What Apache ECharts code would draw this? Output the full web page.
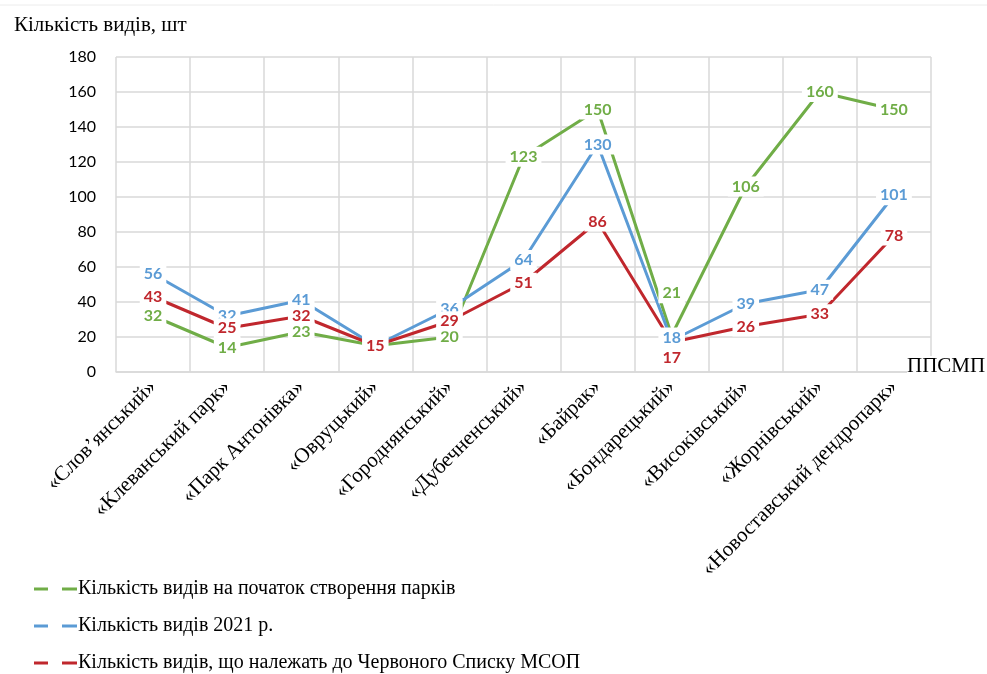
<!DOCTYPE html>
<html>
<head>
<meta charset="UTF-8">
<title>Кількість видів</title>
<script src="https://cdn.jsdelivr.net/npm/echarts@6/dist/echarts.min.js"></script>
<style>
  body { margin: 0; background: #fff; }
  #chart { width: 987px; height: 674px; }
</style>
</head>
<body>
<div id="chart"></div>
<script>
// parks
var parks = ['«Слов’янський»', '«Клеванський парк»', '«Парк Антонівка»', '«Овруцький»',
  '«Городнянський»', '«Дубечненський»', '«Байрак»', '«Бондарецький»',
  '«Високівський»', '«Жорнівський»', '«Новоставський дендропарк»'];

var atStart = [32, 14, 23, 15, 20, 123, 150, 21, 106, 160, 150];
var in2021 = [56, 32, 41, 15, 36, 64, 130, 18, 39, 47, 101];
var redList = [43, 25, 32, 15, 29, 51, 86, 17, 26, 33, 78];

var seriesNames = ['Кількість видів на початок створення парків',
  'Кількість видів 2021 р.',
  'Кількість видів, що належать до Червоного Списку МСОП'];

var yTicks = [0, 20, 40, 60, 80, 100, 120, 140, 160, 180];

var colors = ['#70AD47', '#5B9BD5', '#C0272D'];

// label tweaks (index -> label option), like in the original picture
function build(values, tweaks) {
  return values.map(function (v, i) {
    var item = { value: v };
    if (tweaks[i]) item.label = tweaks[i];
    return item;
  });
}

function lineSeries(name, data, color) {
  return {
    name: name,
    type: 'line',
    data: data,
    symbol: 'circle',
    symbolSize: 1,
    showSymbol: true,
    itemStyle: { color: color },
    lineStyle: { color: color, width: 3 },
    label: {
      show: true,
      position: 'inside',
      color: color,
      fontFamily: 'Lato',
      fontWeight: 'bold',
      fontSize: 16,
      backgroundColor: '#fff',
      padding: [2, 4]
    },
    emphasis: { disabled: true },
    animation: false
  };
}

var chart = echarts.init(document.getElementById('chart'));

var option = {
  animation: false,
  color: colors,
  title: {
    text: 'Кількість видів, шт',
    left: 9,
    top: 10,
    textStyle: { fontFamily: 'Liberation Serif', fontWeight: 'normal', fontSize: 21, color: '#000' }
  },
  grid: { left: 116, right: 56, top: 57, bottom: 302 },
  legend: {
    orient: 'vertical',
    left: 29,
    top: 574,
    height: 100,
    itemGap: 17,
    itemWidth: 43,
    itemHeight: 3,
    icon: 'path://M0,0H14V3H0Z M28,0H43V3H28Z',
    textStyle: { fontFamily: 'Liberation Serif', fontSize: 20, color: '#000', padding: [0, 0, 0, -4] },
    data: seriesNames
  },
  xAxis: {
    type: 'category',
    data: parks,
    boundaryGap: true,
    axisLine: { lineStyle: { color: '#d9d9d9', width: 1.5 } },
    axisTick: { show: false },
    splitLine: { show: true, lineStyle: { color: '#d9d9d9', width: 1.5 } },
    axisLabel: {
      interval: 0,
      rotate: 45,
      margin: 12,
      fontFamily: 'Liberation Serif',
      fontSize: 21,
      color: '#000'
    }
  },
  yAxis: {
    type: 'value',
    min: yTicks[0],
    max: yTicks[yTicks.length - 1],
    interval: 20,
    axisLine: { show: false },
    axisTick: { show: false },
    splitLine: { lineStyle: { color: '#d9d9d9', width: 1.5 } },
    axisLabel: { fontFamily: 'Lato', fontSize: 16, color: '#000', margin: 20 }
  },
  graphic: [
    {
      type: 'line',
      shape: { x1: 0, y1: 5, x2: 987, y2: 5 },
      style: { stroke: '#ececec', lineWidth: 1 }
    },
    {
      type: 'text',
      left: 907,
      top: 356,
      z: 100,
      style: {
        text: 'ППСМП',
        fontFamily: 'Liberation Serif',
        fontSize: 21,
        fill: '#000',
        backgroundColor: '#fff'
      }
    }
  ],
  series: [
    lineSeries(seriesNames[0], build(atStart, { 3: { show: false }, 7: { offset: [0, -42] } }), colors[0]),
    lineSeries(seriesNames[1], build(in2021, { 3: { show: false }, 7: { offset: [0, -3] } }), colors[1]),
    lineSeries(seriesNames[2], build(redList, { 7: { offset: [0, 16] } }), colors[2])
  ]
};

chart.setOption(option);
</script>
</body>
</html>
